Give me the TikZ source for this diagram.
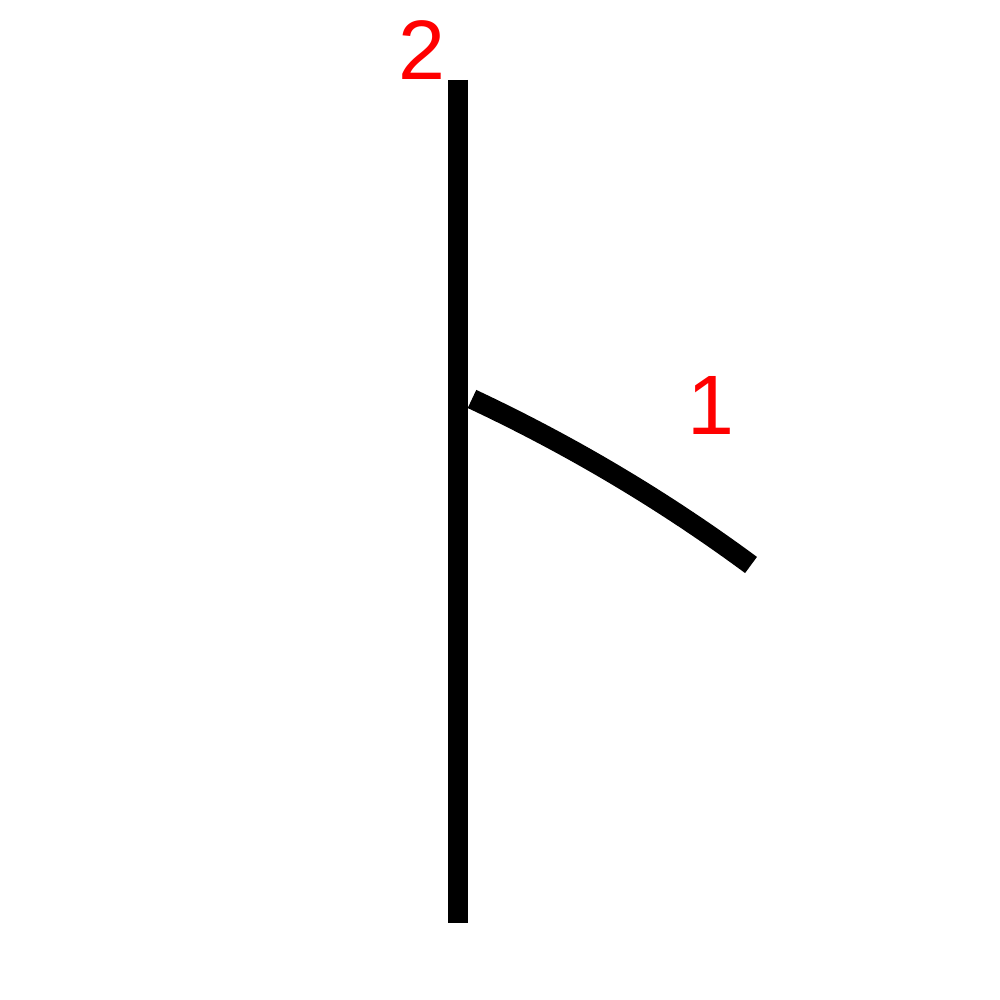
\documentclass[tikz,border=0pt]{standalone}
\usepackage{fontspec}
\setmainfont{Liberation Sans}
\usetikzlibrary{calc,positioning}
\definecolor{StrokeRed}{RGB}{255,0,0}

\begin{document}
\begin{tikzpicture}[stroke/.style={line width=5.7pt,line cap=butt},
  num/.style={text=StrokeRed,font=\fontsize{24}{28}\selectfont,inner sep=0pt}]
\useasboundingbox (0,0) rectangle (10,10);
\coordinate (vtop) at (4.58,9.20);\coordinate (vbot) at (4.58,0.77);
\coordinate (hstart) at (4.72,6.01);\coordinate (hend) at (7.51,4.35);
\draw[stroke] (hstart) .. controls (5.70,5.55) and (6.63,5.00) .. (hend);
\draw[stroke] (vtop)--(vbot);
\node[num] (first) at (7.105,5.95) {1};
\node[num] (second) at (4.215,9.50) {2};
\end{tikzpicture}
\end{document}
